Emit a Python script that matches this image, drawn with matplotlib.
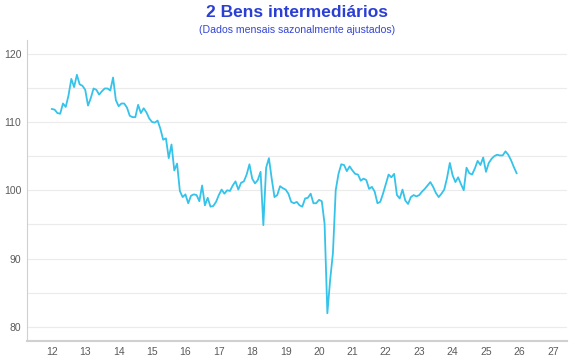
import numpy as np
import matplotlib.pyplot as plt

plt.rcParams['font.family'] = ['Liberation Sans', 'DejaVu Sans']

# monthly index, Jan 2012 .. Dec 2025 (seasonally adjusted)
start_year = 2012
values = [
    # 2012
    111.9, 111.8, 111.3, 111.2, 112.7, 112.2, 113.9, 116.3, 115.1, 116.9, 115.5, 115.3,
    # 2013
    114.7, 112.4, 113.5, 114.9, 114.7, 114.0, 114.5, 114.9, 114.9, 114.6, 116.5, 113.2,
    # 2014
    112.3, 112.7, 112.7, 112.1, 110.9, 110.7, 110.7, 112.5, 111.3, 112.0, 111.4, 110.5,
    # 2015
    110.0, 109.9, 110.2, 109.0, 107.4, 107.6, 104.7, 106.7, 102.9, 103.9, 99.9, 99.0,
    # 2016
    99.4, 98.1, 99.2, 99.4, 99.3, 98.4, 100.7, 97.8, 98.9, 97.6, 97.7, 98.3,
    # 2017
    99.3, 100.1, 99.5, 100.0, 99.9, 100.7, 101.3, 100.1, 101.1, 101.3, 102.3, 103.8,
    # 2018
    101.7, 101.0, 101.5, 102.7, 94.9, 103.3, 104.7, 101.7, 99.0, 99.3, 100.6, 100.3,
    # 2019
    100.1, 99.5, 98.3, 98.1, 98.3, 97.8, 97.6, 98.8, 98.9, 99.5, 98.1, 98.1,
    # 2020
    98.6, 98.4, 95.1, 82.0, 86.9, 90.8, 100.0, 102.4, 103.8, 103.7, 102.8, 103.5,
    # 2021
    102.9, 102.4, 102.3, 101.4, 101.7, 101.5, 100.2, 100.5, 99.8, 98.1, 98.3, 99.5,
    # 2022
    100.9, 102.3, 101.9, 102.4, 99.3, 98.8, 100.1, 98.5, 98.0, 99.0, 99.3, 99.1,
    # 2023
    99.3, 99.8, 100.2, 100.7, 101.2, 100.5, 99.6, 99.0, 99.5, 100.1, 101.8, 104.0,
    # 2024
    102.2, 101.2, 101.9, 100.9, 100.0, 103.3, 102.5, 102.3, 103.2, 104.3, 103.7, 104.8,
    # 2025
    102.7, 104.0, 104.6, 105.0, 105.2, 105.1, 105.1, 105.7, 105.2, 104.4, 103.4, 102.5,
]
year_ticks = list(range(2012, 2028))
year_labels = [str(y % 100) for y in year_ticks]
y_grid = [80, 85, 90, 95, 100, 105, 110, 115, 120]
y_labels = ['80', '', '90', '', '100', '', '110', '', '120']

x = start_year + np.arange(len(values)) / 12.0

fig = plt.figure(figsize=(5.7, 3.6), dpi=100)
ax = fig.add_axes([0.047, 0.053, 0.948, 0.836])

ax.plot(x, values, color='#35c3ea', lw=1.3, solid_joinstyle='round')

ax.set_xlim(2011.25, 2027.43)
ax.set_ylim(77.95, 122)
ax.set_xticks(year_ticks)
ax.set_xticklabels(year_labels)
ax.set_yticks(y_grid)
ax.set_yticklabels(y_labels)
ax.tick_params(axis='both', length=0, labelsize=7.5, colors='#5a5a5a')
ax.tick_params(axis='x', pad=4.5)
ax.tick_params(axis='y', pad=4)

ax.grid(axis='y', color='#ebebeb', lw=0.8)
ax.set_axisbelow(True)
for s in ['top', 'right']:
    ax.spines[s].set_visible(False)
ax.spines['left'].set_color('#d0d0d0')
ax.spines['left'].set_linewidth(0.8)
ax.spines['bottom'].set_color('#d0d0d0')
ax.spines['bottom'].set_linewidth(1.5)

cx = (0.047 + 0.995) / 2
fig.text(cx, 0.965, '2 Bens intermediários', ha='center', va='center',
         fontsize=12.5, fontweight='bold', color='#2b40d3')
fig.text(cx, 0.917, '(Dados mensais sazonalmente ajustados)', ha='center',
         va='center', fontsize=7.6, color='#3446d6')

fig.savefig('out.png', dpi=100)
